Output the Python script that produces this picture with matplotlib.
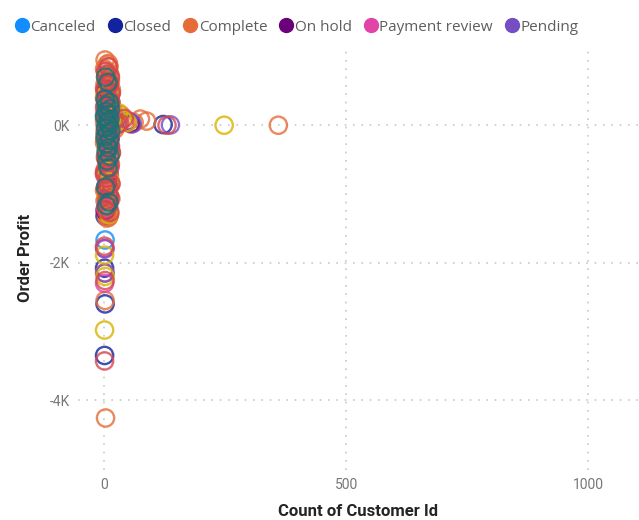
import matplotlib
matplotlib.use("Agg")
import matplotlib.pyplot as plt
from matplotlib.lines import Line2D

# ---- data -------------------------------------------------------------
legend_statuses = ["Canceled", "Closed", "Complete", "On hold", "Payment review", "Pending"]

canceled_x = [2, 9, 5, 1, 12, 4, 7]
canceled_y = [-1670, -1150, -620, 150, 420, -880, -300]

closed_x = [122, 1, 2, 1, 6, 10, 13, 3, 8, 5, 2]
closed_y = [10, -2080, -2600, -3350, -1230, -700, -40, 300, -950, 520, -1320]

complete_x = [2, 6, 1, 10, 4, 13, 2, 8, 15, 5, 11, 1, 7, 14, 3, 9, 12, 2, 6, 15,
              4, 10, 1, 13, 7, 3, 11, 5, 14, 2, 8, 12, 4, 1, 10, 6, 15, 3, 9, 13,
              5, 1, 11, 7, 14, 3, 8, 12, 2, 6, 10, 4, 9, 1, 2, 3, 6, 360, 25,
              45, 62, 75, 35, 55, 88, 18, 22,
              9, 3, 12, 6, 1, 14, 8, 4, 11, 2, 13, 7, 5, 10, 3, 12, 6, 9, 1, 14,
              4, 8, 11, 2, 7, 13, 5, 10]
complete_y = [950, 880, 820, 760, 700, 650, 600, 560, 520, 480, 440, 400, 360, 320,
              280, 250, 220, 190, 160, 130, 100, 80, 60, 40, 20, 5, -20, -45, -70,
              -100, -140, -180, -220, -260, -300, -350, -400, -450, -500, -560,
              -620, -680, -740, -800, -860, -920, -980, -1040, -1100, -1160,
              -1220, -1280, -1340, -2150, -2550, -4260, -1350, 0, 120, 60, 40,
              90, 150, 20, 60, 200, -60,
              900, 790, 730, 670, 540, 460, 380, 300, 230, 110, -10, -120, -240,
              -370, -480, -590, -710, -830, -950, -1070, -1190, -1250, -1310,
              -650, -160, 330, 610, 850]

onhold_x = [2, 8, 55, 4, 12]
onhold_y = [-1240, -880, 30, 520, -200]

payrev_x = [1, 2, 3, 6, 11]
payrev_y = [-2300, -1800, -1200, 250, -560]

pending_x = [137, 1, 2, 50, 58, 9, 4, 13]
pending_y = [5, -1790, -2150, 60, 20, -1050, 400, -330]

# further statuses (not shown in the truncated legend)
pendpay_x = [248, 1, 2, 1, 25, 38, 48, 30, 5, 12, 2, 9, 14, 7, 3, 11, 6, 13, 4, 8, 10, 20, 16]
pendpay_y = [0, -1890, -2200, -2980, 140, 90, 40, 180, 700, 560, 430, 300, 120,
             -60, -240, -420, -640, -820, -1020, -1180, -1300, 60, 100]

processing_x = [130, 1, 2, 1, 9, 3, 13, 6, 11, 2, 15, 7, 4, 12, 1, 9, 14, 5, 10, 3,
                8, 13, 2, 11, 6, 15, 4, 9, 12, 1, 7, 14, 3, 10, 5, 20, 32, 42, 28, 8, 12,
                5, 11, 2, 14, 7, 10, 3, 13, 6, 1, 9, 12, 4]
processing_y = [0, -3430, -2260, -1760, 850, 780, 700, 640, 580, 520, 470, 420,
                370, 310, 260, 200, 150, 90, 30, -30, -90, -150, -210, -270,
                -330, -400, -470, -540, -610, -690, -770, -850, -930, -1010,
                -1090, 60, 30, 100, 10, -1180, -1270,
                740, 610, 500, 340, 180, 60, -120, -300, -510, -720, -900, -1060, -1230]

fraud_x = [3, 8, 2, 11, 5, 13, 4, 9, 1, 12, 6, 10, 3, 14, 7, 2, 11, 5, 9, 4, 12, 6, 8, 3, 10, 5]
fraud_y = [700, 620, 380, 330, 290, 240, 200, 160, 120, 80, 40, 0, -40, -80, -120,
           -170, -220, -270, -330, -390, -450, -520, -620, -900, -1120, -1170]

series = [
    ("Canceled", canceled_x, canceled_y, "#118DFF"),
    ("Closed", closed_x, closed_y, "#12239E"),
    ("Complete", complete_x, complete_y, "#E66C37"),
    ("On hold", onhold_x, onhold_y, "#6B007B"),
    ("Payment review", payrev_x, payrev_y, "#E044A7"),
    ("Pending", pending_x, pending_y, "#744EC2"),
    ("Pending payment", pendpay_x, pendpay_y, "#D9B300"),
    ("Processing", processing_x, processing_y, "#D64550"),
    ("Suspected fraud", fraud_x, fraud_y, "#197278"),
]

x_ticks = [0, 500, 1000]
y_ticks = [0, -2000, -4000]
y_tick_labels = ["0K", "-2K", "-4K"]

# ---- figure -----------------------------------------------------------
fig = plt.figure(figsize=(6.39, 5.2), dpi=100)
ax = fig.add_axes([0.122, 0.096, 0.878, 0.817])

for name, xs, ys, col in series:
    ax.scatter(xs, ys, s=155, facecolors="none", edgecolors=col,
               linewidths=1.7, alpha=0.8, zorder=3)

ax.set_xlim(-54, 1105)
ax.set_ylim(-5018, 1164)

for sp in ax.spines.values():
    sp.set_visible(False)

ax.set_xticks(x_ticks)
ax.set_yticks(y_ticks)
ax.set_yticklabels(y_tick_labels)
ax.tick_params(length=0, colors="#777777", labelsize=10, pad=6)
for lab in ax.get_xticklabels() + ax.get_yticklabels():
    lab.set_family("Roboto")
ax.grid(True, color="#C8C8C8", linestyle=(0, (1, 4)), linewidth=1.2)
ax.set_axisbelow(True)

ax.set_xlabel("Count of Customer Id", fontsize=12, fontweight="bold",
              family="Roboto", color="#252423", labelpad=8)
ax.set_ylabel("Order Profit", fontsize=12, fontweight="bold",
              family="Roboto", color="#252423", labelpad=12)

handles = [Line2D([0], [0], marker="o", linestyle="none", markersize=10,
                  markerfacecolor=c, markeredgecolor=c)
           for n, _, _, c in series if n in legend_statuses]
leg = fig.legend(handles, legend_statuses, loc="upper left",
                 bbox_to_anchor=(0.006, 0.983), ncol=6, frameon=False,
                 handletextpad=0.05, columnspacing=0.75, handlelength=1.0,
                 borderaxespad=0.3,
                 prop={"family": "Open Sans", "size": 11})
for t in leg.get_texts():
    t.set_color("#605E5C")

fig.savefig("out.png", dpi=100)
